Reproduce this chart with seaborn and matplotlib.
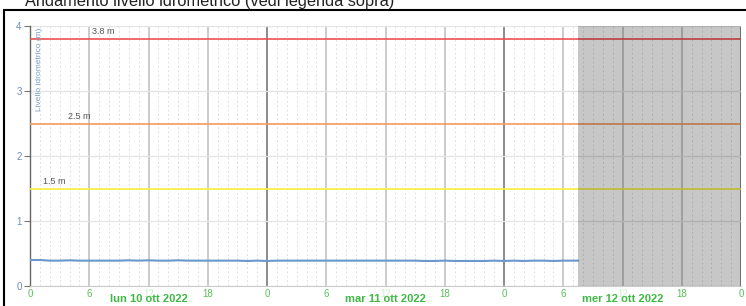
import matplotlib
matplotlib.use("Agg")
from matplotlib import pyplot as plt
from matplotlib.lines import Line2D
import seaborn as sns
import pandas as pd

# ore dall'inizio (lun 10 ott 2022 00:00) e livello idrometrico (m)
ore = [0, 1, 2, 3, 4, 5, 6, 7, 8, 9, 10, 11, 12, 13, 14, 15, 16, 17, 18, 19,
       20, 21, 22, 23, 24, 25, 26, 27, 28, 29, 30, 31, 32, 33, 34, 35, 36, 37,
       38, 39, 40, 41, 42, 43, 44, 45, 46, 47, 48, 49, 50, 51, 52, 53, 54, 55, 55.5]
livello = [0.40, 0.40, 0.39, 0.39, 0.395, 0.39, 0.39, 0.39, 0.39, 0.39, 0.395, 0.39,
           0.395, 0.39, 0.39, 0.395, 0.39, 0.39, 0.39, 0.39, 0.39, 0.39, 0.385, 0.39,
           0.385, 0.39, 0.39, 0.39, 0.39, 0.39, 0.39, 0.39, 0.39, 0.39, 0.39, 0.39,
           0.39, 0.39, 0.39, 0.39, 0.385, 0.385, 0.39, 0.385, 0.385, 0.385, 0.385, 0.39,
           0.385, 0.39, 0.385, 0.39, 0.39, 0.385, 0.39, 0.39, 0.39]

soglie = [3.8, 2.5, 1.5]
soglie_col = ["#ef5050", "#f39a5e", "#f5f03c"]
soglie_lab = ["3.8 m", "2.5 m", "1.5 m"]
soglie_x = [6.3, 3.8, 1.3]

giorni = ["lun 10 ott 2022", "mar 11 ott 2022", "mer 12 ott 2022"]
tick_ore = list(range(0, 73, 6))
tick_lab = [str(h % 24) for h in tick_ore]
ora_attuale = 55.5

df = pd.DataFrame({"ore": ore, "livello": livello})

sns.set_style("white")
plt.rcParams["font.family"] = ["Liberation Sans", "DejaVu Sans"]
fig = plt.figure(figsize=(7.46, 3.06), dpi=100)
ax = fig.add_axes([30 / 746, 20 / 306, 711 / 746, 260 / 306])

# griglia
for h in range(0, 73):
    if h % 24 == 0:
        ax.axvline(h, color="#8a8a8a", lw=1.4, zorder=1)
    elif h % 6 == 0:
        ax.axvline(h, color="#bdbdbd", lw=1.1, zorder=1)
    else:
        ax.axvline(h, color="#e0e0e0", lw=0.7, ls=(0, (2, 2.5)), zorder=1)
for y in range(0, 5):
    ax.axhline(y, color="#e4e4e4", lw=0.9, zorder=1)

for s, c, lab, xs in zip(soglie, soglie_col, soglie_lab, soglie_x):
    ax.axhline(s, color=c, lw=1.2, zorder=3)
    ax.text(xs, s + 0.04, lab, fontsize=6.5, color="#555555", va="bottom", zorder=4)

sns.lineplot(data=df, x="ore", y="livello", color="#6a98cc", lw=1.5, ax=ax, zorder=5)

# zona futura
ax.axvspan(ora_attuale, 72, color="black", alpha=0.22, lw=0, zorder=6)

ax.set_xlim(0, 72)
ax.set_ylim(0, 4)
ax.set_xlabel("")
ax.set_ylabel("")

ax.set_xticks(tick_ore)
ax.set_xticklabels(tick_lab, fontsize=7, color="#5cbf5c")
for t, h in zip(ax.get_xticklabels(), tick_ore):
    if h % 24 == 12:
        t.set_alpha(0.3)
ax.tick_params(axis="x", length=0, pad=2)
ax.set_yticks([0, 1, 2, 3, 4])
ax.set_yticklabels(["0", "1", "2", "3", "4"], fontsize=7, color="#6b8cba")
ax.tick_params(axis="y", length=4, width=0.8, color="#777777", left=True, pad=2)

for i, g in enumerate(giorni):
    ax.text(24 * i + 12, -0.13, g, fontsize=8, fontweight="bold", color="#3fb844",
            ha="center", va="top", zorder=7, clip_on=False)

ax.text(0.008, 0.995, "Livello idrometrico (m)", transform=ax.transAxes, rotation=90,
        fontsize=6, color="#7a9cc6", ha="left", va="top", zorder=7)

for side in ["top", "right"]:
    ax.spines[side].set_visible(False)
ax.spines["left"].set_color("#666666")
ax.spines["left"].set_linewidth(1)
ax.spines["bottom"].set_color("#cccccc")
ax.spines["bottom"].set_linewidth(0.8)

# cornice e titolo
fig.add_artist(Line2D([4 / 746, 4 / 746], [0, 1 - 10 / 306], color="black", lw=1.5,
                      transform=fig.transFigure))
fig.add_artist(Line2D([4 / 746, 1], [1 - 10 / 306, 1 - 10 / 306], color="black", lw=1.5,
                      transform=fig.transFigure))
fig.text(25 / 746, 1 - 6 / 306, "Andamento livello idrometrico (vedi legenda sopra)",
         fontsize=11.8, color="#222222", va="baseline", ha="left")

fig.savefig("out.png", dpi=100)
